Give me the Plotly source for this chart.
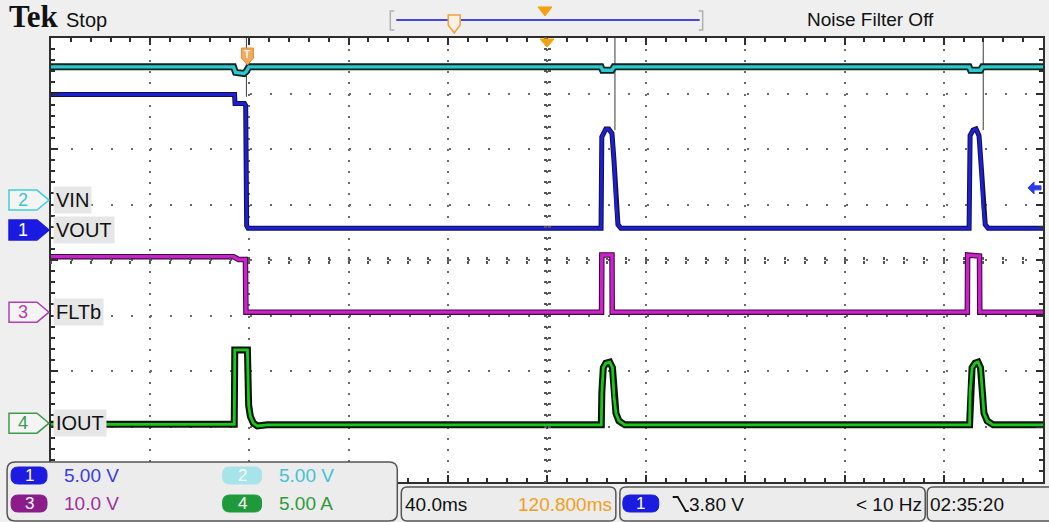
import plotly.graph_objects as go

# ---------------- waveform data ----------------
# time in ms, trigger at t = 0
vout_t = [-79.2, -5.2, -5.0, -1.2, -0.7, -0.3, 0.3, 142.6, 142.9, 143.7, 144.5, 145.7,
          147.0, 147.8, 148.6, 149.4, 150.6, 291.0, 291.4, 292.6, 293.8, 295.0, 295.8,
          296.7, 297.5, 298.7, 320.8]
vout_v = [12.2, 12.2, 11.4, 11.4, 11.2, 0.4, 0.15, 0.15, 8.4, 8.8, 9.1, 9.1,
          8.7, 6.3, 2.3, 0.5, 0.15, 0.15, 8.5, 9.0, 9.1, 8.5, 6.0,
          2.0, 0.5, 0.15, 0.15]

vin_t = [-79.2, -5.6, -4.8, -1.4, -0.4, 0.6, 142.6, 143.2, 147.0, 147.8,
         291.0, 291.6, 295.6, 296.4, 320.8]
vin_v = [12.0, 12.0, 11.5, 11.4, 11.6, 12.0, 12.0, 11.7, 11.7, 12.0,
         12.0, 11.7, 11.7, 12.0, 12.0]

fltb_t = [-79.2, -5.6, -3.6, -0.8, -0.6, 142.8, 142.9, 147.0, 147.1,
          290.3, 290.4, 295.2, 295.3, 320.8]
fltb_v = [10.0, 10.0, 9.5, 9.5, 0.0, 0.0, 10.3, 10.3, 0.0,
          0.0, 10.3, 10.1, 0.0, 0.0]

iout_t = [-79.2, -5.3, -5.1, 0.0, 0.5, 1.2, 2.4, 4.0, 8.0,
          142.7, 142.9, 143.5, 144.5, 146.1, 147.2, 147.8, 148.6, 149.8, 152.2,
          291.2, 291.4, 292.2, 293.4, 294.6, 295.6, 296.3, 297.0, 298.3, 300.7, 320.8]
iout_v = [-0.1, -0.1, 6.6, 6.6, 1.6, 0.6, 0.0, -0.25, -0.15,
          -0.15, 2.7, 5.0, 5.4, 5.5, 5.0, 2.5, 0.9, 0.2, -0.15,
          -0.15, 2.7, 5.0, 5.4, 5.5, 5.0, 2.5, 0.9, 0.2, -0.15, -0.15]

# narrow glitches on VOUT running off the top of the screen
spike_t = [-0.4, -0.4, None, 148.2, 148.2, None, 296.7, 296.7]
spike_v = [12.0, 25.0, None, 9.0, 25.0, None, 9.0, 25.0]

# ---------------- scope settings ----------------
TIME_DIV = 40.0          # ms / div
H_POS = 120.8            # ms, time at screen centre
TRIG_LEVEL = 3.80        # V on channel 1
TRIG_FREQ = "< 10 Hz"
CLOCK = "02:35:20"
ch_numbers = [1, 2, 3, 4]
ch_labels = ["VOUT", "VIN", "FLTb", "IOUT"]
ch_scales = [5.0, 5.0, 10.0, 5.0]
ch_units = ["V", "V", "V", "A"]
ch_offsets_div = [0.54, 1.08, -0.94, -2.94]

SANS = "Liberation Sans, Arial, sans-serif"
SERIF = "Liberation Serif, Times New Roman, serif"

# plot area in pixels
L, T, R, B = 51, 38, 1045, 482
WID, HEI = 1049, 522


def px(x):
    return (x - L) / (R - L)


def py(y):
    return (B - y) / (B - T)


def P(x, y):
    return f"{px(x):.5f},{py(y):.5f}"


def poly(pts, close=True):
    s = "M" + P(*pts[0]) + "".join(" L" + P(*p) for p in pts[1:])
    return s + (" Z" if close else "")


def rrect(x0, y0, x1, y1, r):
    return (f"M{P(x0 + r, y0)} L{P(x1 - r, y0)} Q{P(x1, y0)} {P(x1, y0 + r)} "
            f"L{P(x1, y1 - r)} Q{P(x1, y1)} {P(x1 - r, y1)} L{P(x0 + r, y1)} "
            f"Q{P(x0, y1)} {P(x0, y1 - r)} L{P(x0, y0 + r)} Q{P(x0, y0)} {P(x0 + r, y0)} Z")


shapes = []
annotations = []


def pshape(path, fill=None, line="rgba(0,0,0,0)", lw=1):
    d = dict(type="path", xref="paper", yref="paper", path=path, layer="above",
             line=dict(color=line, width=lw))
    if fill:
        d["fillcolor"] = fill
    shapes.append(d)


def text(x, y, s, color="#111", size=19, anchor="left", family=SANS, **kw):
    annotations.append(dict(x=px(x), y=py(y), xref="paper", yref="paper", text=s,
                            showarrow=False, xanchor=anchor, yanchor="middle",
                            font=dict(color=color, size=size, family=family), **kw))


fig = go.Figure()

xmin, xmax = H_POS - 5 * TIME_DIV, H_POS + 5 * TIME_DIV

# base subplot (graticule in divisions)
fig.add_trace(go.Scatter(x=[None], y=[None], hoverinfo="skip"))

styles = {
    1: dict(color="#1e1ed2", outline="#10104a", wo=5, wi=3.0),
    2: dict(color="#2cc9cc", outline="#0d2222", wo=7, wi=3.4),
    3: dict(color="#cc22cc", outline="#3a0a3a", wo=5.5, wi=3.4),
    4: dict(color="#19c819", outline="#0a150a", wo=7, wi=2.8),
}
series = {1: (vout_t, vout_v), 2: (vin_t, vin_v), 3: (fltb_t, fltb_v), 4: (iout_t, iout_v)}

for n in [4, 3, 2, 1]:
    t, v = series[n]
    st = styles[n]
    yid = f"y{n + 1}"
    fig.add_trace(go.Scatter(x=t, y=v, mode="lines", yaxis=yid, hoverinfo="skip",
                             line=dict(color=st["outline"], width=st["wo"])))
    fig.add_trace(go.Scatter(x=t, y=v, mode="lines", yaxis=yid, hoverinfo="skip",
                             line=dict(color=st["color"], width=st["wi"])))
    if n == 1:
        fig.add_trace(go.Scatter(x=spike_t, y=spike_v, mode="lines", yaxis=yid,
                                 hoverinfo="skip", connectgaps=False,
                                 line=dict(color="#3a3a3a", width=1)))

# dummy traces to register center-tick axes
for xa, ya in [("x2", "y"), ("x3", "y"), ("x", "y6"), ("x", "y7")]:
    fig.add_trace(go.Scatter(x=[None], y=[None], xaxis=xa, yaxis=ya, hoverinfo="skip"))

grid_col = "#6a6a6a"
frame_col = "#2e2e2e"
layout = dict(
    width=WID, height=HEI, margin=dict(l=L, r=WID - R, t=T, b=HEI - B),
    paper_bgcolor="#efefef", plot_bgcolor="#ffffff", showlegend=False,
    xaxis=dict(range=[xmin, xmax], tick0=H_POS, dtick=TIME_DIV, showticklabels=False,
               showgrid=True, gridcolor=grid_col, gridwidth=2, griddash="2px,9.1px",
               zeroline=False, showline=True, linecolor=frame_col, linewidth=2,
               mirror="ticks", ticks="inside", ticklen=7, tickwidth=1.5, tickcolor=frame_col,
               minor=dict(ticks="inside", dtick=TIME_DIV / 5, tick0=H_POS, ticklen=4,
                          tickwidth=1.5, tickcolor=frame_col, showgrid=False)),
    yaxis=dict(range=[-4, 4], tick0=0, dtick=1, showticklabels=False,
               showgrid=True, gridcolor=grid_col, gridwidth=2, griddash="2px,17.88px",
               zeroline=False, showline=True, linecolor=frame_col, linewidth=2,
               mirror="ticks", ticks="inside", ticklen=7, tickwidth=1.5, tickcolor=frame_col,
               minor=dict(ticks="inside", dtick=0.2, tick0=0, ticklen=4,
                          tickwidth=1.5, tickcolor=frame_col, showgrid=False)),
)
for k, side in [(2, "outside"), (3, "inside")]:
    layout[f"xaxis{k}"] = dict(range=[xmin, xmax], overlaying="x", anchor="free", position=0.5,
                               showline=False, showgrid=False, zeroline=False,
                               showticklabels=False, ticks=side, tick0=H_POS, dtick=TIME_DIV,
                               ticklen=3, tickwidth=2, tickcolor="#555",
                               minor=dict(ticks=side, dtick=TIME_DIV / 5, tick0=H_POS,
                                          ticklen=3, tickwidth=2, tickcolor="#555"))
for k, side in [(6, "outside"), (7, "inside")]:
    layout[f"yaxis{k}"] = dict(range=[-4, 4], overlaying="y", anchor="free", position=0.5,
                               showline=False, showgrid=False, zeroline=False,
                               showticklabels=False, ticks=side, tick0=0, dtick=1,
                               ticklen=3, tickwidth=2, tickcolor="#555",
                               minor=dict(ticks=side, dtick=0.2, tick0=0,
                                          ticklen=3, tickwidth=2, tickcolor="#555"))
for i, n in enumerate(ch_numbers):
    s, off = ch_scales[i], ch_offsets_div[i]
    layout[f"yaxis{n + 1}"] = dict(range=[(-4 - off) * s, (4 - off) * s], overlaying="y",
                                   visible=False, showgrid=False, zeroline=False)

# ---------------- channel ground markers + labels ----------------
marker_style = {
    1: dict(fill="#1a1ae0", line="#1a1ae0", num="#ffffff"),
    2: dict(fill="#f4f4f4", line="#3fd0d8", num="#3cc6d0"),
    3: dict(fill="#f4f4f4", line="#b040b0", num="#b040b0"),
    4: dict(fill="#f4f4f4", line="#3c9a4c", num="#3c9a4c"),
}
for i, n in enumerate(ch_numbers):
    ms = marker_style[n]
    yid = f"y{n + 1}"
    shapes.append(dict(type="path", xref="paper", yref=yid, xsizemode="pixel",
                       ysizemode="pixel", xanchor=0, yanchor=0,
                       path="M-42,10 L-14,10 L-2,0 L-14,-10 L-42,-10 Z",
                       fillcolor=ms["fill"], line=dict(color=ms["line"], width=1.5),
                       layer="above"))
    annotations.append(dict(x=0, y=0, xref="paper", yref=yid, xshift=-28, text=str(n),
                            showarrow=False, xanchor="center", yanchor="middle",
                            font=dict(color=ms["num"], size=18, family=SANS)))
    annotations.append(dict(x=0, y=0, xref="paper", yref=yid, xshift=2, text=ch_labels[i],
                            showarrow=False, xanchor="left", yanchor="middle",
                            bgcolor="#e6e6e6", borderpad=2,
                            font=dict(color="#111", size=20, family=SANS)))

# trigger level arrow (channel 1)
shapes.append(dict(type="path", xref="paper", yref="y2", xsizemode="pixel", ysizemode="pixel",
                   xanchor=1, yanchor=TRIG_LEVEL,
                   path="M-15,0 L-9,6 L-9,2 L-2,2 L-2,-2 L-9,-2 L-9,-6 Z",
                   fillcolor="#2a3ae8", line=dict(color="#2a3ae8", width=1), layer="above"))

# trigger position marker (T) at t = 0 and expansion point at centre
shapes.append(dict(type="path", xref="x", yref="paper", xsizemode="pixel", ysizemode="pixel",
                   xanchor=0, yanchor=1, path="M-6,-10 L6,-10 L6,-20 L0,-27 L-6,-20 Z",
                   fillcolor="#f5a95c", line=dict(color="#e58d2c", width=1), layer="above"))
annotations.append(dict(x=0, y=1, xref="x", yref="paper", yshift=-16, text="<b>T</b>",
                        showarrow=False, xanchor="center", yanchor="middle",
                        font=dict(color="#ffffff", size=10, family=SANS)))
shapes.append(dict(type="path", xref="x", yref="paper", xsizemode="pixel", ysizemode="pixel",
                   xanchor=H_POS, yanchor=1, path="M-7,-1 L7,-1 L0,-9 Z",
                   fillcolor="#f2a20a", line=dict(color="#f2a20a", width=1), layer="above"))

# ---------------- top band ----------------
text(7, 17, "<b>Tek</b>", size=31, family=SERIF)
text(64, 20, "Stop", size=20)
text(872, 20, "Noise Filter Off", size=19, anchor="center")
pshape(poly([(395, 11), (391, 11), (391, 30), (395, 30)], close=False), line="#b0b0b0", lw=1.5)
pshape(poly([(700, 11), (704, 11), (704, 30), (700, 30)], close=False), line="#b0b0b0", lw=1.5)
pshape(poly([(397, 20), (701, 20)], close=False), line="#4646d8", lw=2)
pshape(poly([(449, 15), (461, 15), (461, 25), (455, 33), (449, 25)]), fill="#f8f0e4",
       line="#f0a040", lw=1.5)
pshape(poly([(539, 7), (553, 7), (546, 16)]), fill="#f2a20a", line="#f2a20a", lw=1)

# ---------------- bottom readouts ----------------
def fmt(s):
    return f"{s:#.3g}"


pshape(rrect(7, 462, 398, 521, 8), fill="#ececec", line="#555555", lw=1.5)
badge = {1: ("#1c1ce0", 11, 47, 467, 484), 3: ("#8c1c8c", 11, 47, 495, 512),
         2: ("#a6e4ea", 223, 262, 467, 484), 4: ("#1f9a3a", 223, 262, 495, 512)}
txtcol = {1: "#3a3ae6", 2: "#42c2d4", 3: "#a02ea0", 4: "#2f9a3a"}
for i, n in enumerate(ch_numbers):
    col, x0, x1, y0, y1 = badge[n]
    pshape(rrect(x0, y0, x1, y1, 7), fill=col, line=col)
    text((x0 + x1) / 2, (y0 + y1) / 2, str(n), color="#ffffff", size=17, anchor="center")
    text(x1 + 15, (y0 + y1) / 2, f"{fmt(ch_scales[i])} {ch_units[i]}", color=txtcol[n])

pshape(rrect(402, 487, 617, 521, 6), fill="#ececec", line="#555555", lw=1.5)
pshape(rrect(621, 487, 927, 521, 6), fill="#ececec", line="#555555", lw=1.5)
pshape(rrect(929, 487, 1056, 521, 6), fill="#ececec", line="#555555", lw=1.5)
text(404, 504, f"{TIME_DIV:.1f}ms")
text(615, 504, f"{H_POS:.3f}ms", color="#f0a020", anchor="right")
pshape(rrect(624, 495, 660, 512, 7), fill="#1c1ce0", line="#1c1ce0")
text(642, 503.5, "1", color="#ffffff", size=17, anchor="center")
pshape(poly([(674, 497), (679, 497), (687, 511), (690, 511)], close=False), line="#111", lw=1.8)
text(688, 504, f"{TRIG_LEVEL:.2f} V")
text(926, 504, TRIG_FREQ, anchor="right")
text(930, 504, CLOCK)

layout["shapes"] = shapes
layout["annotations"] = annotations
fig.update_layout(**layout)

fig.write_html("out.html", config={"displayModeBar": False},
               post_script="document.body.style.margin='0';document.body.style.overflow='hidden';")
